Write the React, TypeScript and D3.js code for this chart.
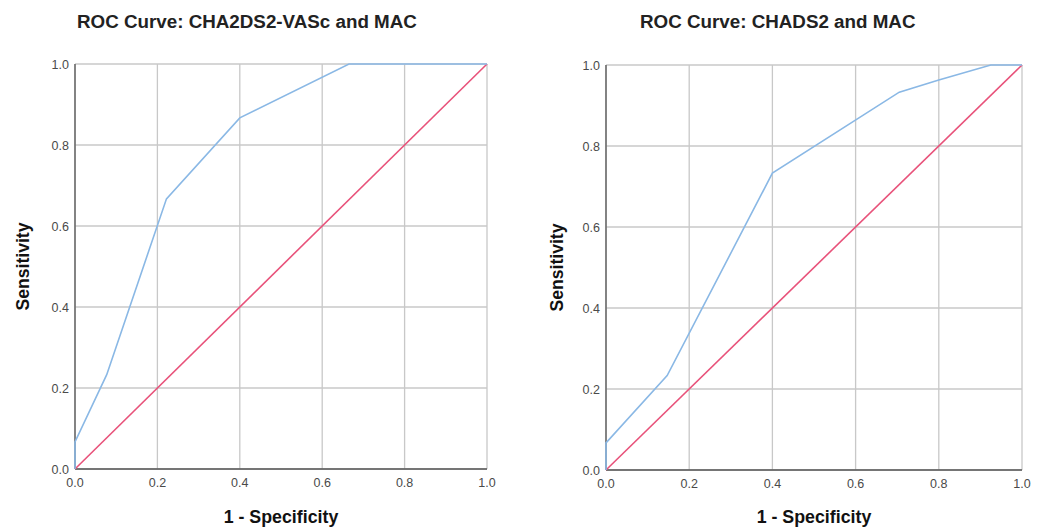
import React from "react";
import * as d3 from "d3";

const titles = ["ROC Curve: CHA2DS2-VASc and MAC", "ROC Curve: CHADS2 and MAC"];
const ticks = [0, 0.2, 0.4, 0.6, 0.8, 1.0];

const curveA_x = [0, 0, 0.077, 0.222, 0.4, 0.665, 1.0];
const curveA_y = [0, 0.067, 0.233, 0.667, 0.867, 1.0, 1.0];

const curveB_x = [0, 0, 0.147, 0.4, 0.705, 0.8, 0.925, 1.0];
const curveB_y = [0, 0.067, 0.233, 0.733, 0.933, 0.963, 1.0, 1.0];

const refLine_x = [0, 1];
const refLine_y = [0, 1];

const panels = [
  { title: titles[0], xs: curveA_x, ys: curveA_y, x0: 75, x1: 487, y0: 469, y1: 64, titleX: 77, yLabelX: 23, xLabelX: 281 },
  { title: titles[1], xs: curveB_x, ys: curveB_y, x0: 606, x1: 1022, y0: 470, y1: 65, titleX: 640, yLabelX: 557, xLabelX: 814 },
];

function Panel({ p }: { p: typeof panels[0] }) {
  const x = d3.scaleLinear().domain([0, 1]).range([p.x0, p.x1]);
  const y = d3.scaleLinear().domain([0, 1]).range([p.y0, p.y1]);
  const line = d3.line<[number, number]>().x((d) => x(d[0])).y((d) => y(d[1]));
  const roc = p.xs.map((v, i) => [v, p.ys[i]] as [number, number]);
  const ref = refLine_x.map((v, i) => [v, refLine_y[i]] as [number, number]);
  const font = "Liberation Sans, Arial, sans-serif";
  return (
    <g>
      <text x={p.titleX} y={28} fontFamily={font} fontWeight="bold" fontSize={18.8} fill="#222">{p.title}</text>
      {ticks.map((t) => (
        <g key={"g" + t}>
          <line x1={x(t)} x2={x(t)} y1={y(0)} y2={y(1)} stroke="#c8c8c8" strokeWidth={1.3} />
          <line x1={x(0)} x2={x(1)} y1={y(t)} y2={y(t)} stroke="#c8c8c8" strokeWidth={1.3} />
          <text x={x(t)} y={p.y0 + 17.5} textAnchor="middle" fontFamily={font} fontSize={12.5} fill="#4a4a4a">{t.toFixed(1)}</text>
          <text x={p.x0 - 6} y={y(t) + 5} textAnchor="end" fontFamily={font} fontSize={12.5} fill="#4a4a4a">{t.toFixed(1)}</text>
        </g>
      ))}
      <line x1={x(0)} x2={x(0)} y1={y(0)} y2={y(1)} stroke="#555" strokeWidth={1.3} />
      <line x1={x(0)} x2={x(1)} y1={y(0)} y2={y(0)} stroke="#555" strokeWidth={1.3} />
      <path d={line(ref) || ""} fill="none" stroke="#e8527a" strokeWidth={1.6} />
      <path d={line(roc) || ""} fill="none" stroke="#8ab8e5" strokeWidth={1.6} />
      <text x={p.xLabelX} y={523} textAnchor="middle" fontFamily={font} fontWeight="bold" fontSize={17.8} fill="#111">1 - Specificity</text>
      <text transform={`translate(${p.yLabelX},${(p.y0 + p.y1) / 2}) rotate(-90)`} textAnchor="middle" dy="0.35em" fontFamily={font} fontWeight="bold" fontSize={17.6} fill="#111">Sensitivity</text>
    </g>
  );
}

export default function App() {
  return (
    <svg width={1040} height={530} style={{ position: "absolute", left: 0, top: 0, background: "#fff" }}>
      <rect width={1040} height={530} fill="#fff" />
      {panels.map((p, i) => <Panel key={i} p={p} />)}
    </svg>
  );
}
